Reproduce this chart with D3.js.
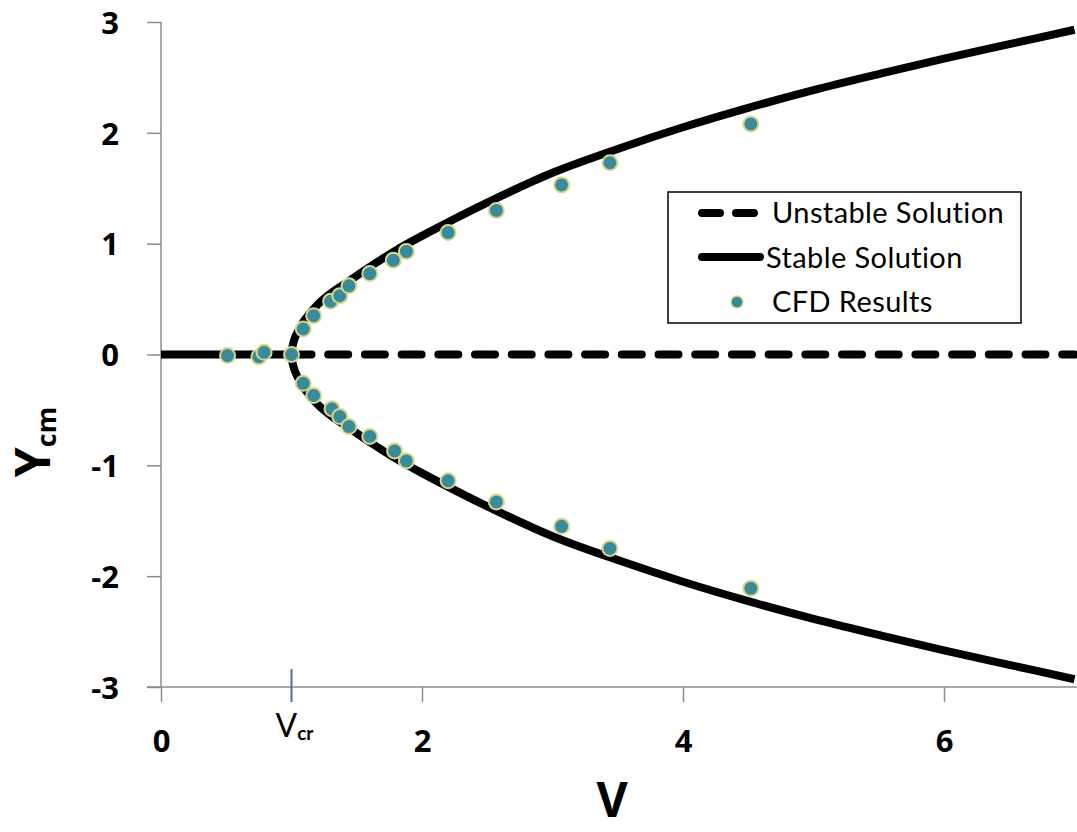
<!DOCTYPE html>
<html>
<head>
<meta charset="utf-8">
<script src="https://cdn.jsdelivr.net/npm/d3@7"></script>
<style>
  body { margin: 0; background: #fff; }
  .axis path, .axis line { stroke: #8c8c8c; stroke-width: 1.5; }
  .axis text { font-family: "Open Sans", sans-serif; font-weight: bold; font-size: 31px; fill: #000; }
  .legend text { font-family: Lato, "Open Sans", sans-serif; font-size: 29px; letter-spacing: 0.4px; fill: #000; }
</style>
</head>
<body>
<div id="chart"></div>
<script>
// ---- data ----
var xTicks = [0, 2, 4, 6];
var yTicks = [-3, -2, -1, 0, 1, 2, 3];
var vCritical = 1;

// stable branch (V < Vcr, on the axis)
var leftV = [0, 1];
var leftY = [0, 0];

// unstable branch (V > Vcr, on the axis)
var unstableV = [1, 7];
var unstableY = [0, 0];

// stable branches (V > Vcr)
var stableV     = [1, 1.02, 1.05, 1.1, 1.2, 1.3, 1.45, 1.6, 1.8, 2.0, 2.5, 3.0, 3.5, 4.0, 4.5, 5.0, 5.5, 6.0, 6.5, 7.0];
var stableUpper = [0, 0.13, 0.21, 0.31, 0.45, 0.55, 0.67, 0.79, 0.94, 1.07, 1.37, 1.64, 1.855, 2.05, 2.225, 2.385, 2.53, 2.67, 2.80, 2.93];
var stableLower = [0, -0.13, -0.21, -0.31, -0.45, -0.55, -0.67, -0.79, -0.94, -1.07, -1.37, -1.64, -1.855, -2.05, -2.225, -2.385, -2.53, -2.67, -2.80, -2.93];

// CFD results
var cfdV = [0.51, 0.75, 0.79, 1.0, 1.09, 1.17, 1.30, 1.37, 1.44, 1.60, 1.78, 1.88, 2.20, 2.57, 3.07, 3.44, 4.52,
            1.09, 1.17, 1.31, 1.37, 1.44, 1.60, 1.79, 1.88, 2.20, 2.57, 3.07, 3.44, 4.52];
var cfdY = [-0.01, -0.02, 0.02, 0, 0.23, 0.35, 0.48, 0.53, 0.62, 0.73, 0.85, 0.93, 1.10, 1.30, 1.53, 1.73, 2.08,
            -0.26, -0.37, -0.49, -0.56, -0.65, -0.74, -0.87, -0.96, -1.14, -1.33, -1.55, -1.75, -2.11];

var legendNames = ["Unstable Solution", "Stable Solution", "CFD Results"];

var width = 1077, height = 832;

var svg = d3.select("#chart")
            .append("svg")
            .attr("width", width)
            .attr("height", height);

var x = d3.scaleLinear().domain([0, 7]).range([161, 1074.5]);
var y = d3.scaleLinear().domain([-3, 3]).range([687, 22]);

// axes
var yAxis = svg.append("g")
    .attr("class", "axis")
    .attr("transform", "translate(" + x(0) + ",0)")
    .call(d3.axisLeft(y).tickValues(yTicks).tickSize(14).tickPadding(28).tickFormat(function (d) { return String(d); }));
yAxis.select(".domain").attr("d", "M0," + y(3) + "V" + y(-3));
yAxis.selectAll("text").attr("dy", "0.36em");

var xAxis = svg.append("g")
    .attr("class", "axis")
    .attr("transform", "translate(0," + y(-3) + ")")
    .call(d3.axisBottom(x).tickValues(xTicks).tickSize(15).tickPadding(28).tickFormat(function (d) { return String(d); }));
xAxis.select(".domain").attr("d", "M" + (x(0) - 14) + ",0H" + width);

// Vcr marker
svg.append("line")
    .attr("x1", x(vCritical)).attr("x2", x(vCritical))
    .attr("y1", y(-3) - 18).attr("y2", y(-3) + 15)
    .attr("stroke", "#4a6db0").attr("stroke-width", 2);

var vcr = svg.append("text")
    .attr("x", x(vCritical) - 16)
    .attr("y", 737)
    .style("font-family", "Lato, 'Open Sans', sans-serif")
    .style("font-size", "32px");
vcr.append("tspan").text("V");
vcr.append("tspan").attr("dy", 3).style("font-size", "19px").style("font-weight", "bold").text("cr");

// axis titles
svg.append("text")
    .attr("x", 612)
    .attr("y", 817)
    .attr("text-anchor", "middle")
    .style("font-family", "'Open Sans', sans-serif")
    .style("font-weight", "bold")
    .style("font-size", "48px")
    .text("V");

var yTitle = svg.append("text")
    .attr("transform", "translate(50,442) rotate(-90)")
    .attr("text-anchor", "middle")
    .style("font-family", "'Open Sans', sans-serif")
    .style("font-weight", "bold")
    .style("font-size", "48px");
yTitle.append("tspan").text("Y");
yTitle.append("tspan").attr("dy", 6).style("font-size", "27px").text("cm");

// lines
var line = d3.line()
    .x(function (d) { return x(d[0]); })
    .y(function (d) { return y(d[1]); });

svg.append("path")
    .datum(leftV.map(function (v, i) { return [v, leftY[i]]; }))
    .attr("d", line)
    .attr("fill", "none")
    .attr("stroke", "#000")
    .attr("stroke-width", 8);

svg.append("path")
    .datum(unstableV.map(function (v, i) { return [v, unstableY[i]]; }))
    .attr("d", line)
    .attr("fill", "none")
    .attr("stroke", "#000")
    .attr("stroke-width", 8)
    .attr("stroke-linecap", "round")
    .attr("stroke-dasharray", "20,16.7");

var stablePts = stableV.map(function (v, i) { return [v, stableLower[i]]; }).reverse()
    .concat(stableV.slice(1).map(function (v, i) { return [v, stableUpper[i + 1]]; }));

svg.append("path")
    .datum(stablePts)
    .attr("d", line.curve(d3.curveCatmullRom.alpha(0.5)))
    .attr("fill", "none")
    .attr("stroke", "#000")
    .attr("stroke-width", 8);

// CFD points
svg.selectAll(".cfd")
    .data(cfdV.map(function (v, i) { return [v, cfdY[i]]; }))
    .enter().append("circle")
    .attr("class", "cfd")
    .attr("cx", function (d) { return x(d[0]); })
    .attr("cy", function (d) { return y(d[1]); })
    .attr("r", 7.5)
    .attr("fill", "#398b9c")
    .attr("stroke", "#d8d68a")
    .attr("stroke-width", 2);

// legend
var legend = svg.append("g").attr("class", "legend");
legend.append("rect")
    .attr("x", 668).attr("y", 192)
    .attr("width", 353).attr("height", 131)
    .attr("fill", "#fff")
    .attr("stroke", "#000")
    .attr("stroke-width", 1.5);

legend.append("line")
    .attr("x1", 702).attr("x2", 758)
    .attr("y1", 213).attr("y2", 213)
    .attr("stroke", "#000").attr("stroke-width", 8)
    .attr("stroke-linecap", "round")
    .attr("stroke-dasharray", "18,16");
legend.append("line")
    .attr("x1", 702).attr("x2", 760)
    .attr("y1", 257).attr("y2", 257)
    .attr("stroke", "#000").attr("stroke-width", 8)
    .attr("stroke-linecap", "round");
legend.append("circle")
    .attr("cx", 737).attr("cy", 302).attr("r", 6)
    .attr("fill", "#398b9c")
    .attr("stroke", "#d8d68a")
    .attr("stroke-width", 1.5);

legend.selectAll(".lbl")
    .data(legendNames)
    .enter().append("text")
    .attr("class", "lbl")
    .attr("x", function (d, i) { return i == 1 ? 766 : 772; })
    .attr("y", function (d, i) { return 213 + i * 44.5; })
    .attr("dy", "0.35em")
    .text(function (d) { return d; });
</script>
</body>
</html>
